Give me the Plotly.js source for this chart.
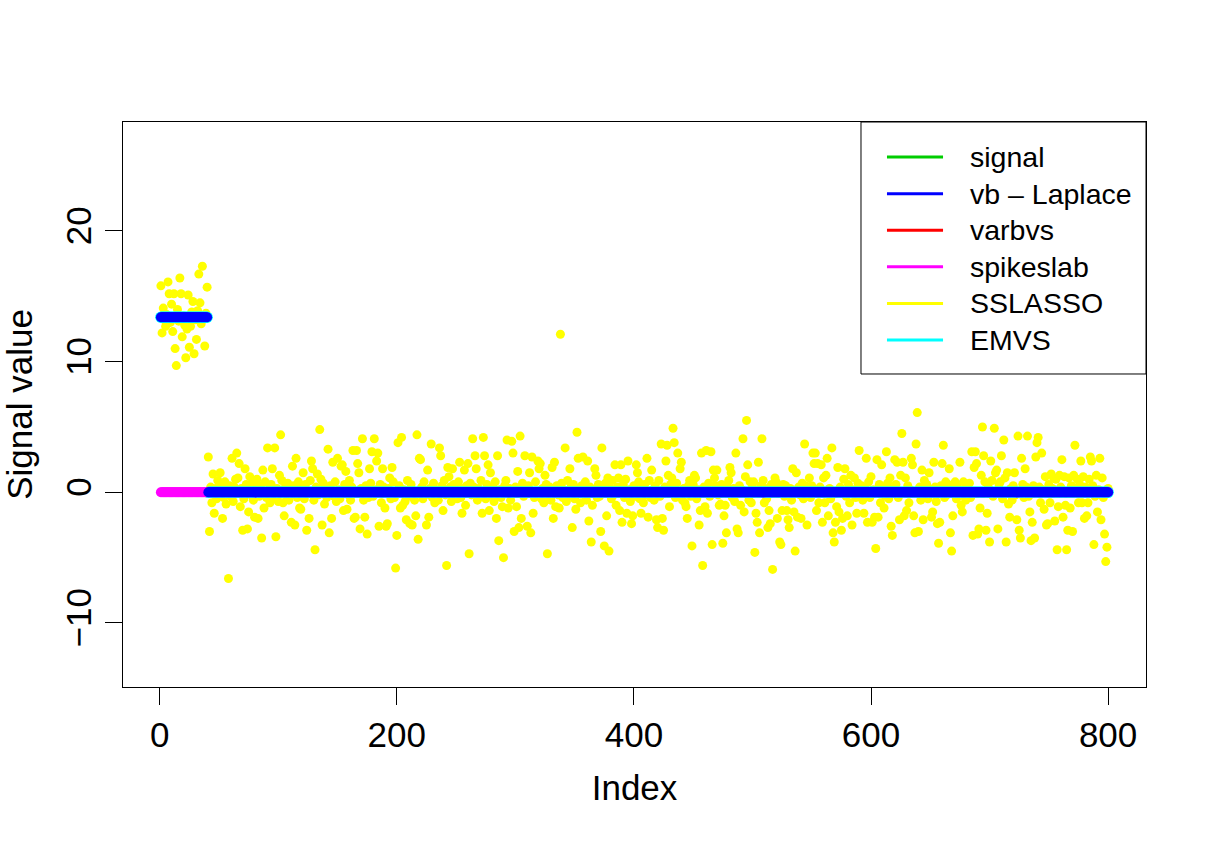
<!DOCTYPE html>
<html>
<head>
<meta charset="utf-8">
<script src="https://cdn.plot.ly/plotly-3.0.1.min.js"></script>
<style>html,body{margin:0;padding:0;background:#fff;}#chart{width:1209px;height:842px;}</style>
</head>
<body>
<div id="chart"></div>
<script>
// ---- data ----
const nObs = 800;
const nSignal = 40;

// observed values (yellow dots), indices 1..40 (signal block)
const observedSignal = [15.8,12.2,14.1,13.2,12.7,13.6,16.1,15.2,13.0,14.4,
  12.3,15.2,11.0,9.7,14.0,13.1,16.4,15.2,11.9,13.5,
  12.8,10.3,12.5,15.1,11.1,12.7,13.8,14.6,10.6,13.2,
  11.7,13.9,16.7,14.5,12.9,17.3,13.3,11.2,13.7,15.7];

// observed values, indices 41..800 (noise)
const observedNoise = [
2.7,-3.0,0.4,-0.8,1.4,-1.6,0.3,-0.5,0.9,-0.2,
1.5,0.6,-2.0,-0.4,0.8,-0.9,0.2,-6.6,0.5,-0.3,
2.6,-0.7,0.4,1.0,3.0,1.1,2.2,-1.1,0.3,-2.9,
-0.5,1.8,0.6,-2.8,-1.5,1.2,-0.2,0.7,-0.6,-1.9,
0.4,1.0,-2.0,-0.3,0.5,-3.5,1.7,-1.2,0.8,-0.4,
3.4,0.2,-0.8,0.6,1.8,-0.5,3.4,-3.4,0.3,-0.7,
1.3,4.4,0.9,-0.8,-1.8,0.4,-0.3,0.7,-0.6,0.2,
-2.3,2.0,0.5,-2.5,2.6,-0.4,0.8,-1.2,-1.3,0.3,
1.5,-0.5,0.6,-2.9,0.1,-2.0,0.9,2.4,1.8,-0.6,
-4.4,0.4,1.4,-0.2,4.8,1.0,-2.5,0.7,-0.9,0.3,
-0.4,3.3,-3.1,0.5,-2.0,2.3,-0.3,0.8,-0.7,2.6,
0.2,-0.5,2.0,2.1,-1.4,0.6,1.6,-1.3,-0.2,0.9,
-0.6,0.4,3.2,-2.0,-1.9,3.2,2.2,1.5,-2.8,0.3,
4.1,-0.6,-1.9,0.5,-3.2,-0.4,1.8,0.7,3.1,-0.3,
4.1,0.2,2.4,3.0,-2.6,0.6,-0.8,1.8,0.4,-1.2,
-2.6,-2.4,0.3,1.1,-0.5,1.9,0.8,-0.4,-5.8,-3.3,
3.8,0.5,-1.2,4.2,-1.0,0.2,-0.7,-2.1,0.9,-0.3,
-2.4,0.6,-2.5,0.1,-0.6,-1.8,4.4,-3.6,2.6,2.5,
0.4,-0.5,0.8,-0.2,-2.5,1.7,-1.9,0.3,3.7,-0.4,
0.7,-0.8,0.2,-0.3,-0.6,3.4,2.8,0.5,-1.4,0.9,
-0.2,-5.6,1.9,1.2,0.4,-0.7,1.8,0.6,-0.3,0.2,
-0.5,0.8,2.3,-0.4,-1.6,0.3,1.7,-1.0,0.5,2.2,
-4.7,0.7,-0.2,4.1,0.4,2.8,1.8,-0.6,0.3,-0.3,
0.9,-1.6,4.2,2.8,-0.5,0.6,2.1,-1.4,1.5,-0.2,
0.4,-0.7,0.8,-2.0,2.8,-3.7,0.2,-0.4,-1.1,-5.0,
0.5,0.9,4.0,-1.2,0.3,-0.6,3.9,3.0,-3.0,0.4,
-1.1,1.6,-2.7,4.3,-2.0,0.7,-0.3,2.8,0.2,-2.6,
0.5,1.5,-3.1,2.7,-1.6,-0.4,0.8,-0.2,2.4,1.8,
2.2,-0.5,0.3,-0.8,1.3,0.6,-4.7,-0.3,0.4,-0.6,
1.9,-2.0,2.3,-1.1,0.5,-0.2,-1.2,12.1,0.7,-0.4,
0.2,3.4,-0.7,0.9,-0.3,1.8,0.4,-2.7,0.6,-0.5,
-1.3,4.6,2.6,0.3,-0.8,0.5,2.7,-0.2,0.8,-0.6,
2.4,-2.2,0.4,-3.8,-1.0,0.2,1.8,1.3,-0.4,0.6,
-0.3,-3.0,3.4,0.5,-4.1,0.7,-1.8,1.1,-4.5,0.3,
-0.5,0.9,-0.2,2.1,-1.0,0.4,1.1,-1.4,2.1,-2.3,
0.6,-0.4,1.0,-1.6,2.4,0.2,-0.7,-2.4,-1.8,0.5,
-0.3,2.1,1.5,0.8,-0.5,-1.6,0.3,-0.8,0.6,-0.2,
2.6,-1.9,0.9,-0.4,1.7,0.2,-0.6,0.5,-2.1,-2.7,
0.9,-0.3,3.7,-2.0,-2.9,0.4,2.4,3.6,1.3,-1.1,
0.6,1.1,4.9,3.8,-0.4,0.7,3.0,-0.2,1.8,2.3,
-0.6,0.3,-0.8,-1.1,-2.0,0.5,0.9,-0.3,-4.1,0.6,
1.3,1.1,-0.5,0.2,-2.5,-1.4,3.0,-5.6,0.4,-1.1,
3.2,-1.6,0.7,-0.3,3.1,-4.0,1.7,1.1,0.5,1.7,
-0.2,-1.0,-0.9,0.6,-3.9,-1.8,-1.0,-3.1,0.4,0.9,
1.9,1.5,-0.4,0.3,-0.7,3.0,-2.8,-3.1,0.5,-1.0,
0.2,4.1,-1.5,1.2,5.5,2.1,-0.6,0.8,-0.8,0.4,
0.8,-4.6,-1.6,-2.3,2.3,-3.1,0.5,4.1,0.9,-0.8,
0.3,-0.5,-2.7,-1.4,-2.4,0.6,-5.9,0.2,1.1,0.8,
-2.0,0.4,-3.8,-4.0,-1.4,0.6,-0.3,0.5,-1.4,-2.1,
-2.7,0.3,-0.6,1.8,-1.5,-4.5,1.5,-1.9,0.4,-0.2,
-2.0,0.7,-0.5,3.7,0.5,-2.5,0.3,1.1,-0.4,0.5,
3.0,2.2,3.0,-1.4,2.2,-0.8,0.4,2.1,-2.3,1.1,
-0.8,1.3,2.6,-1.8,0.3,-0.5,3.4,-3.1,-3.8,-2.3,
-1.1,1.9,-1.5,0.4,-2.9,-2.0,1.0,1.8,-0.3,-1.8,
0.6,-0.8,1.3,-2.5,0.2,1.1,-0.4,-1.6,0.7,3.2,
-0.2,0.5,-0.6,-1.6,0.3,2.6,-2.3,0.8,-0.4,1.2,
-2.3,0.2,-1.9,-4.3,2.5,-1.9,0.6,-0.8,2.1,0.4,
-1.2,-0.3,3.1,0.7,-0.5,1.1,-2.6,-3.3,0.3,2.5,
0.6,2.3,-0.4,-2.1,1.3,4.5,2.3,-1.8,1.1,-1.4,
0.5,-0.8,0.2,2.6,2.1,-1.8,-3.1,3.7,6.1,-3.0,
0.4,-0.6,1.7,-2.1,0.9,-0.3,0.6,-0.5,1.5,0.2,
-1.9,-1.5,2.3,0.4,-0.7,-2.4,-3.9,-2.3,0.5,2.2,
3.6,-0.4,0.8,-0.2,0.6,1.8,-3.1,-4.5,-1.8,0.3,
0.8,-0.5,0.4,-0.3,2.3,-1.0,-1.5,0.8,0.2,-0.6,
0.5,-0.2,0.7,-0.4,3.1,-3.3,1.9,3.1,2.2,-3.2,
-2.8,-1.2,1.3,5.0,2.8,0.8,-2.9,-1.6,0.4,-3.8,
2.4,0.9,-0.3,4.9,1.5,1.7,-2.8,0.6,0.8,2.8,
-0.5,4.0,1.1,-3.8,1.5,-0.9,-1.9,0.3,-0.6,0.5,
1.5,-0.2,-2.1,4.3,-2.9,-3.5,2.6,0.6,-0.4,1.8,
0.4,4.3,-0.3,-1.5,-3.7,-2.3,0.5,-3.5,2.7,3.8,
4.2,0.4,-0.8,3.0,0.2,-1.3,1.2,-2.5,-2.4,0.6,
-0.8,1.4,0.3,1.1,-2.2,1.0,-4.4,-1.1,1.3,0.4,
2.5,-1.9,1.2,-1.0,-4.4,-2.9,1.1,-1.2,0.5,-3.0,
1.3,3.6,0.3,1.0,-0.8,0.6,2.4,-0.8,1.2,-2.0,
0.4,-1.8,-0.8,1.0,2.7,2.4,0.5,-4.0,-0.3,1.3,
-1.5,0.2,2.6,-2.1,1.1,-0.4,-3.2,-5.3,-4.2,0.3];

// estimated level on the signal block for each method, 0 elsewhere
const methodNames  = ["signal", "vb \u2013 Laplace", "varbvs", "spikeslab", "SSLASSO", "EMVS"];
const methodColors = ["#00cd00", "#0000ff", "#ff0000", "#ff00ff", "#ffff00", "#00ffff"];
const blockLevel   = [13.4, 13.4, 13.4, 0, 13.4, 13.4];   // value on indices 1..40
const restLevel    = [0, 0, 0, 0, 0, 0];                  // value on indices 41..800

const xTicks = [0, 200, 400, 600, 800];
const yTicks = [-10, 0, 10, 20];

// ---- build ----
const idx = [];
for (let i = 1; i <= nObs; i++) idx.push(i);
const observed = observedSignal.concat(observedNoise);
function levelSeries(k) {
  return idx.map(i => (i <= nSignal ? blockLevel[k] : restLevel[k]));
}

const FONT = "Liberation Sans, Arial, Helvetica, sans-serif";
const traces = [];
traces.push({x: idx, y: observed, type: "scatter", mode: "markers",
  marker: {color: "#ffff00", size: 9}, showlegend: false, hoverinfo: "skip"});
// draw order: signal, varbvs, EMVS (slightly wider fringe), spikeslab, vb-Laplace on top
const order = [0, 2, 5, 3, 1];
const sizes = {0: 10, 2: 10, 5: 11.5, 3: 10, 1: 10};
order.forEach(k => {
  traces.push({x: idx, y: levelSeries(k), type: "scatter", mode: "markers",
    marker: {color: methodColors[k], size: sizes[k]}, showlegend: false, hoverinfo: "skip"});
});

// legend drawn as box + line shapes + texts
const shapes = [{type: "rect", xref: "paper", yref: "paper", x0: 0.7214, x1: 1.0, y0: 0.554, y1: 1.0,
  line: {color: "black", width: 1}, fillcolor: "white", layer: "above"}];
const annotations = [];
const legTop = 0.938, legStep = 0.0648;
methodNames.forEach((nm, k) => {
  const yy = legTop - k * legStep;
  shapes.push({type: "line", xref: "paper", yref: "paper", x0: 0.7468, x1: 0.8016, y0: yy, y1: yy,
    line: {color: methodColors[k], width: 3}, layer: "above"});
  annotations.push({xref: "paper", yref: "paper", x: 0.826, y: yy, xanchor: "left", yanchor: "middle",
    text: nm, showarrow: false, font: {family: FONT, size: 28.5, color: "black"}});
});

const layout = {
  width: 1209, height: 842,
  margin: {l: 123, r: 63, t: 122, b: 155},
  paper_bgcolor: "white", plot_bgcolor: "white",
  font: {family: FONT, color: "black"},
  showlegend: false,
  xaxis: {range: [-30.96, 831.96], tickvals: xTicks, ticktext: xTicks.map(String),
    showgrid: false, zeroline: false, showline: true, mirror: true, linecolor: "black", linewidth: 1,
    ticks: "outside", ticklen: 17, tickwidth: 1, tickcolor: "black",
    tickfont: {family: FONT, size: 35, color: "black"},
    title: {text: "Index", font: {family: FONT, size: 35, color: "black"}, standoff: 22}},
  yaxis: {range: [-14.9, 28.34], tickvals: yTicks, ticktext: yTicks.map(v => v < 0 ? "\u2212" + Math.abs(v) : String(v)),
    showgrid: false, zeroline: false, showline: true, mirror: true, linecolor: "black", linewidth: 1,
    ticks: "outside", ticklen: 17, tickwidth: 1, tickcolor: "black", tickangle: -90,
    tickfont: {family: FONT, size: 35, color: "black"},
    title: {text: "Signal value", font: {family: FONT, size: 35, color: "black"}, standoff: 18}},
  shapes: shapes,
  annotations: annotations
};

Plotly.newPlot("chart", traces, layout, {displayModeBar: false, staticPlot: true});
</script>
</body>
</html>
